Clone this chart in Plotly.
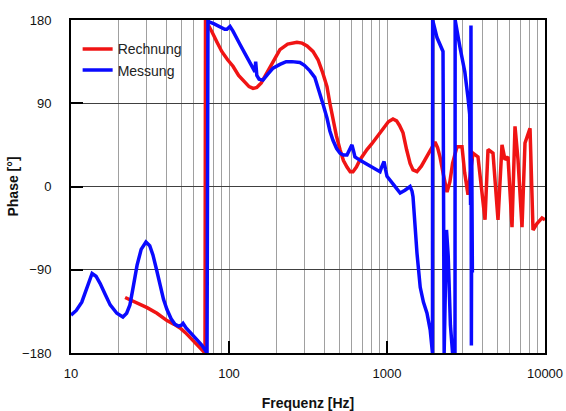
import plotly.graph_objects as go

# Rechnung (calculation)
red_freq = [22, 25, 30.3, 35, 40.5, 45, 49, 53, 56.6, 61, 65.5, 68, 70.5, 71, 74, 78.1, 84, 90, 98,
            106, 115, 125, 134, 142, 150, 160, 174, 190, 210, 235, 269, 290, 312, 340, 366, 390,
            417, 435, 455, 478, 504, 530, 558, 585, 609, 640, 675, 710, 747, 800, 865, 950, 1020,
            1091, 1150, 1200, 1263, 1330, 1400, 1461, 1548, 1650, 1791, 1900, 2013, 2090, 2165,
            2280, 2398, 2500, 2600, 2773, 2984, 3100, 3256, 3400, 3502, 3766, 4172, 4358, 4687,
            5041, 5344, 5582, 5832, 6182, 6459, 6747, 7153, 7471, 8039, 8399, 8901, 9573, 10000]
red_phase = [-120, -124, -131, -137, -145, -149, -153, -158, -163, -169, -175, -178, -180, 180, 175,
             167, 156, 146, 137, 130, 120, 113, 108, 106, 107, 112, 123, 136, 148, 154, 156, 155,
             152, 146, 137, 124, 108, 90, 72, 55, 40, 28, 21, 16, 16, 21, 29, 35, 40, 46, 54, 62,
             70, 73, 71, 66, 58, 40, 25, 18, 16, 22, 32, 40, 48, 42, 32, 12, -6, 5, 25, 43, 43, 15,
             -9, 20, 36, 32, -36, 40, 36, -36, 45, 29, 32, -44, 65, 29, -44, 47, 63, -47, -40, -34,
             -36]

# Messung (measurement)
blue_freq = [10, 10.8, 11.7, 12.6, 13.6, 14.4, 15.3, 16.5, 17.7, 19.5, 21.3, 22.5, 23.6, 24.8, 26.2,
             27.8, 29.8, 31.5, 33.0, 34.8, 36.6, 38.5, 40.5, 43, 45.5, 48, 50, 51.2, 53.5, 56, 59,
             63, 67.6, 70, 72.6, 73.6, 74.7, 80, 87.6, 94, 97, 101.5, 106, 111, 117, 126, 136, 146,
             147.5, 150, 155, 164, 175, 190, 210, 230, 250, 281, 300, 325, 349, 362, 376, 395, 417,
             435, 455, 480, 504, 530, 558, 580, 600, 615, 627, 680, 747, 820, 903, 930, 958, 980,
             1000, 1100, 1211, 1300, 1400, 1440, 1461, 1548, 1623, 1700, 1791, 1876, 1940, 1945,
             2072, 2262, 2300, 2380, 2440, 2520, 2600, 2694, 2700, 2900, 3108, 3256, 3337, 3380,
             3400, 3420, 3440, 3470]
blue_phase = [-139, -134, -125, -110, -94, -97, -105, -117, -128, -137, -141, -137, -128, -108, -85,
              -68, -60, -64, -74, -90, -107, -122, -133, -143, -149, -151, -150, -148, -153, -157,
              -161, -166, -172, -176, -180, 180, 178, 176, 173, 170, 170, 173, 168, 161, 154, 144,
              134, 124, 135, 120, 116, 115, 121, 128, 132, 135, 135, 134, 131, 125, 118, 110, 100,
              88, 74, 60, 50, 41, 36, 34, 34, 39, 45, 38, 32, 28, 24, 20, 16, 22, 27, 18, 11, 2,
              -7, -4, 0, -5, -11, -72, -109, -125, -137, -155, -180, 180, 161, 146, -180, -47, -75,
              -150, -180, -180, 180, 150, 124, 96, 78, -20, 174, -172, 30, -93]

x_major = [10, 100, 1000, 10000]
x_major_text = ["10", "100", "1000", "10000"]
x_minor = [20, 30, 40, 50, 60, 70, 80, 90,
           200, 300, 400, 500, 600, 700, 800, 900,
           2000, 3000, 4000, 5000, 6000, 7000, 8000, 9000]
y_ticks = [-180, -90, 0, 90, 180]

FONT = "Liberation Sans, Arial, sans-serif"

fig = go.Figure()
fig.add_trace(go.Scatter(x=red_freq, y=red_phase, mode="lines", name="Rechnung",
                         line=dict(color="#f01414", width=3.5)))
fig.add_trace(go.Scatter(x=blue_freq, y=blue_phase, mode="lines", name="Messung",
                         line=dict(color="#0a0aff", width=3.5)))

fig.update_layout(
    width=566, height=411,
    margin=dict(l=71, r=21, t=20, b=58, autoexpand=False),
    paper_bgcolor="white", plot_bgcolor="white",
    font=dict(family=FONT, color="#111111"),
    showlegend=True,
    legend=dict(x=0.014, y=0.96, xanchor="left", yanchor="top",
                bgcolor="rgba(0,0,0,0)", font=dict(size=14, family=FONT, color="#222222")),
    xaxis=dict(
        type="log", range=[1, 4], automargin=False,
        tickmode="array", tickvals=x_major, ticktext=x_major_text,
        ticks="inside", ticklen=12, tickwidth=2, tickcolor="black",
        showline=True, linecolor="black", linewidth=2, mirror=True,
        showgrid=True, gridcolor="#a0a0a0", gridwidth=1,
        minor=dict(tickmode="array", tickvals=x_minor, showgrid=True,
                   gridcolor="#a0a0a0", gridwidth=1, ticks=""),
        tickfont=dict(size=13, family=FONT, color="#111111"),
        ticklabelstandoff=7,
        title=dict(text="<b>Frequenz [Hz]</b>", font=dict(size=14, family=FONT, color="#111111"),
                   standoff=23),
        zeroline=False,
    ),
    yaxis=dict(
        range=[-180, 180], automargin=False,
        tickmode="array", tickvals=y_ticks,
        ticks="inside", ticklen=12, tickwidth=2, tickcolor="black",
        showline=True, linecolor="black", linewidth=2, mirror=True,
        showgrid=True, gridcolor="#404040", gridwidth=1,
        tickfont=dict(size=13, family=FONT, color="#111111"),
        ticklabelstandoff=15,
        title=dict(text="<b>Phase [°]</b>", font=dict(size=14, family=FONT, color="#111111"),
                   standoff=0),
        zeroline=False,
    ),
)

fig.write_html("out.html")
